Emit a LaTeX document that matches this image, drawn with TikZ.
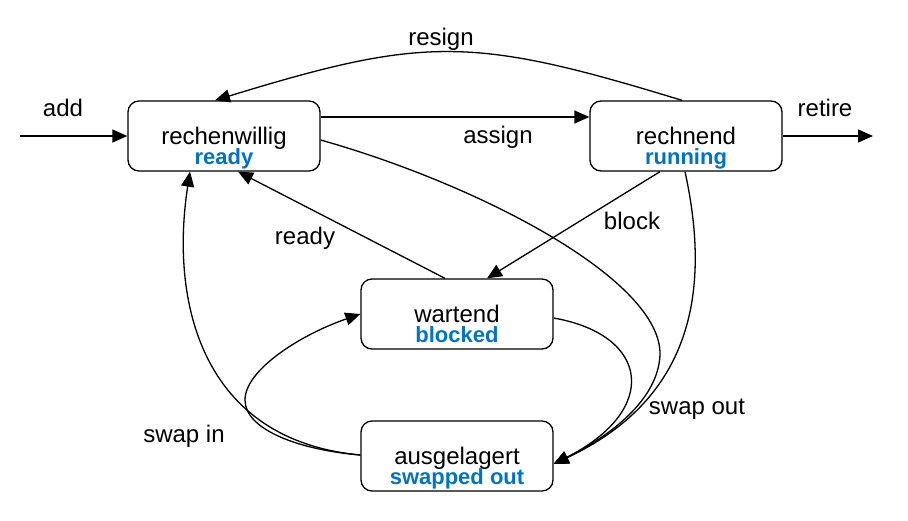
\documentclass[tikz,border=0pt]{standalone}
\usepackage{fontspec}
\setmainfont{Liberation Sans}
\usetikzlibrary{arrows.meta}
\definecolor{blu}{RGB}{0,114,198}
\begin{document}
\begin{tikzpicture}[x=1pt,y=-1pt,
 state/.style={draw,rounded corners=11pt,minimum width=192pt,minimum height=70pt,line width=1.3pt,inner sep=0pt,fill=white},
 nm/.style={anchor=base,font=\fontsize{24}{24}\selectfont},
 en/.style={anchor=base,font=\fontsize{22}{22}\selectfont\bfseries,text=blu},
 lbl/.style={anchor=base,font=\fontsize{24}{24}\selectfont},
 arr/.style={line width=1.3pt,-{Triangle[length=15pt,width=13pt]}}]
\useasboundingbox (0,0) rectangle (908,520);

\node[state] (rw) at (224,136) {};
\node[nm] (rwn) at (224,144) {rechenwillig};
\node[en] (rwe) at (224,164) {ready};

\node[state] (rn) at (686,136) {};
\node[nm] (rnn) at (686,144) {rechnend};
\node[en] (rne) at (686,164) {running};

\node[state] (wt) at (457,314) {};
\node[nm] (wtn) at (457,322) {wartend};
\node[en] (wte) at (457,342) {blocked};

\node[state] (ag) at (457,456) {};
\node[nm] (agn) at (457,464) {ausgelagert};
\node[en] (age) at (457,484) {swapped out};

\coordinate (addstart) at (20,136);
\coordinate (retireend) at (873,136);

% add / retire / assign
\draw[arr] (addstart) -- (rw.west);
\draw[arr] (rn.east) -- (retireend);
\draw[arr] ([yshift=19pt]rw.east) -- ([yshift=19pt]rn.west);

% resign
\draw[arr] ([xshift=-4pt]rn.north) .. controls (472,36) and (425,36) .. ([xshift=-9pt]rw.north);

% block / ready
\draw[arr] ([xshift=-26pt]rn.south) -- ([xshift=30pt]wt.north);
\draw[arr] ([xshift=-12pt]wt.north) -- ([xshift=14pt]rw.south);

% swap out
\draw[arr] ([yshift=-4pt]rw.east) .. controls (480,185) and (662,280) .. (660,355)
  .. controls (658,400) and (610,436) .. ([yshift=-8pt]ag.east);
\draw[arr] ([xshift=-1pt]rn.south) .. controls (712,295) and (690,400) .. ([yshift=-8pt]ag.east);
\draw[arr] ([yshift=-4pt]wt.east) .. controls (650,335) and (660,410) .. ([yshift=-8pt]ag.east);

% swap in
\draw[arr] ([yshift=1pt]ag.west) .. controls (200,440) and (170,300) .. ([xshift=-34pt]rw.south);
\draw[arr] ([yshift=1pt]ag.west) .. controls (300,450) and (245,430) .. (245,400)
  .. controls (245,370) and (300,335) .. (wt.west);

% labels
\node[lbl] (ladd) at (63,116) {add};
\node[lbl] (lresign) at (441,45) {resign};
\node[lbl] (lassign) at (498,143) {assign};
\node[lbl] (lretire) at (825,116) {retire};
\node[lbl] (lblock) at (632,229) {block};
\node[lbl] (lready) at (305,244) {ready};
\node[lbl] (lswapout) at (697,414) {swap out};
\node[lbl] (lswapin) at (184,442) {swap in};
\end{tikzpicture}
\end{document}
